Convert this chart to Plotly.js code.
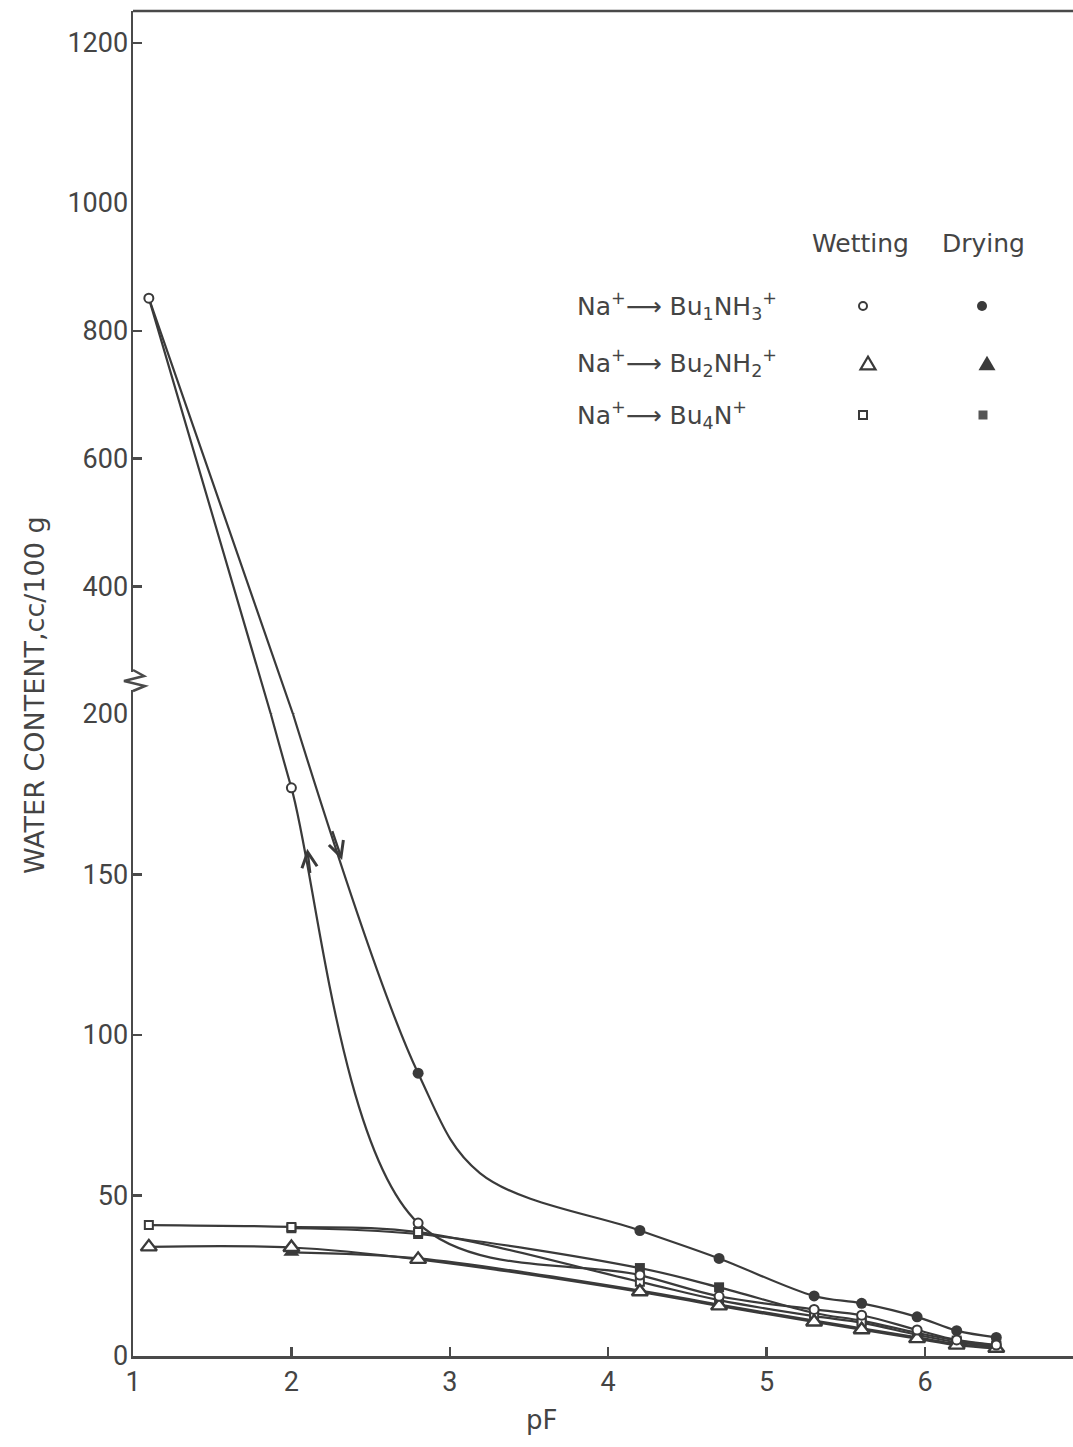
<!DOCTYPE html>
<html>
<head>
<meta charset="utf-8">
<script src="https://cdn.plot.ly/plotly-3.0.1.min.js"></script>
<style>
  html, body { margin: 0; padding: 0; background: #ffffff; }
  #chart { width: 1073px; height: 1447px; }
</style>
</head>
<body>
<div id="chart"></div>
<script>
// Suction (pF) at which each sample was measured
const pfAll    = [1.1, 2.0, 2.8, 4.2, 4.7, 5.3, 5.6, 5.95, 6.2, 6.45];
const pfDry    = [2.0, 2.8, 4.2, 4.7, 5.3, 5.6, 5.95, 6.2, 6.45];
const pfDryBu1 = [2.8, 4.2, 4.7, 5.3, 5.6, 5.95, 6.2, 6.45];

// Water content, cc/100 g
const wetBu1 = [851, 177, 41.4, 25.2, 18.6, 14.5, 12.7, 8.1, 5.0, 3.4];
const dryBu1 = [88.1, 39.1, 30.4, 18.7, 16.4, 12.2, 7.9, 5.8];
const wetBu2 = [34.0, 33.8, 30.1, 20.0, 15.6, 10.6, 8.2, 5.4, 3.4, 2.4];
const dryBu2 = [32.3, 30.4, 20.4, 16.0, 11.0, 8.6, 5.8, 3.7, 2.6];
const wetBu4 = [40.8, 40.2, 38.6, 23.1, 17.4, 12.4, 10.4, 6.6, 4.3, 3.0];
const dryBu4 = [39.8, 38.0, 27.4, 21.4, 13.4, 11.0, 7.2, 4.8, 3.3];

// Where the drawn Bu1NH3+ branches cross the axis break (200 cc/100 g)
const breakWC = 200;
const wetBu1CrossPF = 1.87;
const dryBu1CrossPF = 2.01;
// Knee of the drawn Bu1NH3+ drying curve between pF 2.8 and 4.2
const dryBu1KneePF = 3.19;
const dryBu1KneeWC = 57;

// Direction arrows on the Bu1NH3+ loop (tip and tail)
const arrowTipPF  = [2.10, 2.32];
const arrowTipWC  = [158, 154.5];
const arrowTailPF = [2.12, 2.255];
const arrowTailWC = [150, 164];

// Axis ticks
const xTicks    = [1, 2, 3, 4, 5, 6];
const yTicksLow = [0, 50, 100, 150, 200];
const yTicksMid = [400, 600, 800, 1000];
const yTicksTop = [1200];

const INK = '#3a3a3a';
const AXIS = '#4a4a4a';
const TEXT = '#444444';
const FONT = 'Roboto, "DejaVu Sans", sans-serif';
const FONT_WIDE = '"DejaVu Sans", Roboto, sans-serif';

// Plot geometry (pixels)
const W = 1073, H = 1447;
const M = { l: 133, r: 0, t: 11, b: 91 };
const plotW = W - M.l - M.r, plotH = H - M.t - M.b;
const px2paperX = px => (px - M.l) / plotW;
const px2paperY = py => (H - M.b - py) / plotH;

// Three stacked scale segments of the broken water-content axis
const domLow = [0, px2paperY(714)];
const domMid = [px2paperY(714), px2paperY(203)];
const domTop = [px2paperY(203), 1];

// Upper branch (above the break): straight runs from the saturated start
const upperCurves = [
  [[pfAll[0], wetBu1CrossPF, pfAll[1]], [wetBu1[0], breakWC, wetBu1[1]]],
  [[pfAll[0], dryBu1CrossPF, pfDryBu1[0]], [wetBu1[0], breakWC, dryBu1[0]]]
];
// Lower branch (below the break): smooth curves
const lowerCurves = [
  [[wetBu1CrossPF].concat(pfAll.slice(1)), [breakWC].concat(wetBu1.slice(1))],
  [[dryBu1CrossPF, pfDryBu1[0], dryBu1KneePF].concat(pfDryBu1.slice(1)),
   [breakWC, dryBu1[0], dryBu1KneeWC].concat(dryBu1.slice(1))],
  [pfAll, wetBu2],
  [pfDry, dryBu2],
  [pfAll, wetBu4],
  [pfDry, dryBu4]
];

const markerSets = [
  { x: pfDry,    y: dryBu4, symbol: 'square',      size: 10, fill: INK,   lw: 0 },
  { x: pfAll,    y: wetBu4, symbol: 'square',      size: 8,  fill: '#fff', lw: 2 },
  { x: pfDry,    y: dryBu2, symbol: 'triangle-up', size: 14, fill: INK,   lw: 0 },
  { x: pfAll,    y: wetBu2, symbol: 'triangle-up', size: 14, fill: '#fff', lw: 2.4 },
  { x: pfDryBu1, y: dryBu1, symbol: 'circle',      size: 11, fill: INK,   lw: 0 },
  { x: pfAll,    y: wetBu1, symbol: 'circle',      size: 9,  fill: '#fff', lw: 2 }
];

const traces = [];
function addCurve(x, y, ya, shape) {
  traces.push({
    type: 'scatter', mode: 'lines', x: x, y: y, xaxis: 'x', yaxis: ya,
    line: { color: INK, width: 2.2, shape: shape, smoothing: 1 },
    hoverinfo: 'skip', showlegend: false
  });
}
upperCurves.forEach(([x, y]) => addCurve(x, y, 'y2', 'linear'));
lowerCurves.forEach(([x, y]) => addCurve(x, y, 'y', 'spline'));

['y', 'y2'].forEach(ya => {
  markerSets.forEach(s => {
    traces.push({
      type: 'scatter', mode: 'markers', x: s.x, y: s.y, xaxis: 'x', yaxis: ya,
      marker: { symbol: s.symbol, size: s.size, color: s.fill, line: { color: INK, width: s.lw } },
      cliponaxis: true, hoverinfo: 'skip', showlegend: false
    });
  });
});
// keeps the top axis segment on the page
traces.push({ type: 'scatter', mode: 'lines', x: [], y: [], xaxis: 'x', yaxis: 'y3', showlegend: false, hoverinfo: 'skip' });

const yBase = {
  showline: true, linecolor: AXIS, linewidth: 2.5,
  ticks: 'inside', ticklen: 9, tickwidth: 2.5, tickcolor: AXIS,
  tickfont: { family: FONT, size: 27, color: TEXT },
  ticklabelstandoff: -3,
  showgrid: false, zeroline: false, tickmode: 'array', anchor: 'x', fixedrange: true
};

// Legend keys (pixel centres) and labels
const legendRowsY = [306, 363, 415];
const keyWetX = [863, 868, 863];
const keyDryX = [982, 987, 983];
const legendLabels = [
  'Na<sup>+</sup>⟶ Bu<sub>1</sub>NH<sub>3</sub><sup>+</sup>',
  'Na<sup>+</sup>⟶ Bu<sub>2</sub>NH<sub>2</sub><sup>+</sup>',
  'Na<sup>+</sup>⟶ Bu<sub>4</sub>N<sup>+</sup>'
];

function circleKey(cx, cy, d, filled) {
  return { type: 'circle', xref: 'paper', yref: 'paper', xsizemode: 'pixel', ysizemode: 'pixel',
    xanchor: px2paperX(cx), yanchor: px2paperY(cy), x0: -d / 2, x1: d / 2, y0: -d / 2, y1: d / 2,
    fillcolor: filled ? INK : '#fff', line: { color: INK, width: filled ? 0 : 2 } };
}
function squareKey(cx, cy, d, filled) {
  return { type: 'rect', xref: 'paper', yref: 'paper', xsizemode: 'pixel', ysizemode: 'pixel',
    xanchor: px2paperX(cx), yanchor: px2paperY(cy), x0: -d / 2, x1: d / 2, y0: -d / 2, y1: d / 2,
    fillcolor: filled ? '#555' : '#fff', line: { color: INK, width: filled ? 0 : 2 } };
}
function triKey(cx, cy, w, filled) {
  const h = w * 0.85;
  return { type: 'path', xref: 'paper', yref: 'paper', xsizemode: 'pixel', ysizemode: 'pixel',
    xanchor: px2paperX(cx), yanchor: px2paperY(cy),
    path: `M${-w / 2},${-h / 2} L${w / 2},${-h / 2} L0,${h / 2} Z`,
    fillcolor: filled ? INK : '#fff', line: { color: INK, width: filled ? 0 : 2.2 } };
}

const shapes = [
  // top frame line
  { type: 'line', xref: 'paper', yref: 'paper', x0: 0, x1: 1, y0: 1, y1: 1, line: { color: AXIS, width: 2.5 } },
  // axis break mark
  { type: 'line', xref: 'paper', yref: 'paper', x0: 0, x1: 0, y0: px2paperY(672), y1: px2paperY(690),
    line: { color: '#ffffff', width: 4 }, layer: 'above' },
  { type: 'path', xref: 'paper', yref: 'paper', layer: 'above',
    path: 'M' + [[133, 670], [144, 676], [124, 681], [145, 686], [133, 691]]
      .map(p => px2paperX(p[0]) + ',' + px2paperY(p[1])).join(' L'),
    line: { color: AXIS, width: 2.5 } },
  circleKey(keyWetX[0], legendRowsY[0], 8, false),
  circleKey(keyDryX[0], legendRowsY[0], 10, true),
  triKey(keyWetX[1], legendRowsY[1], 15, false),
  triKey(keyDryX[1], legendRowsY[1], 17, true),
  squareKey(keyWetX[2], legendRowsY[2], 8, false),
  squareKey(keyDryX[2], legendRowsY[2], 9, true)
];

const annotations = [
  { text: 'Wetting', xref: 'paper', yref: 'paper', x: px2paperX(860), y: px2paperY(243),
    xanchor: 'center', yanchor: 'middle', showarrow: false, font: { family: FONT_WIDE, size: 25, color: TEXT } },
  { text: 'Drying', xref: 'paper', yref: 'paper', x: px2paperX(983), y: px2paperY(243),
    xanchor: 'center', yanchor: 'middle', showarrow: false, font: { family: FONT_WIDE, size: 25, color: TEXT } },
  { text: 'WATER CONTENT,cc/100 g', xref: 'paper', yref: 'paper', x: px2paperX(35), y: px2paperY(695),
    xanchor: 'center', yanchor: 'middle', textangle: -90, showarrow: false,
    font: { family: FONT_WIDE, size: 27, color: TEXT } },
  { text: 'pF', xref: 'paper', yref: 'paper', x: px2paperX(541), y: px2paperY(1420),
    xanchor: 'center', yanchor: 'middle', showarrow: false, font: { family: FONT_WIDE, size: 26, color: TEXT } }
];
legendLabels.forEach((t, i) => {
  annotations.push({ text: t, xref: 'paper', yref: 'paper', x: px2paperX(575), y: px2paperY(legendRowsY[i]),
    xanchor: 'left', yanchor: 'middle', showarrow: false, font: { family: FONT_WIDE, size: 25, color: TEXT } });
});
arrowTipPF.forEach((p, i) => {
  annotations.push({ x: p, y: arrowTipWC[i], xref: 'x', yref: 'y',
    ax: arrowTailPF[i], ay: arrowTailWC[i], axref: 'x', ayref: 'y', text: '',
    showarrow: true, arrowhead: 5, arrowsize: 1.25, arrowwidth: 2.4, arrowcolor: INK });
});

const layout = {
  width: W, height: H,
  margin: M,
  paper_bgcolor: '#ffffff', plot_bgcolor: '#ffffff',
  showlegend: false,
  xaxis: {
    range: [1, 1 + plotW / 158.4], domain: [0, 1], anchor: 'y',
    showline: true, linecolor: AXIS, linewidth: 2.5,
    ticks: 'inside', ticklen: 9, tickwidth: 2.5, tickcolor: AXIS,
    tickmode: 'array', tickvals: xTicks, ticktext: xTicks.map(String),
    tickfont: { family: FONT, size: 27, color: TEXT },
    showgrid: false, zeroline: false, fixedrange: true
  },
  yaxis:  Object.assign({}, yBase, { domain: domLow, range: [0, 200],     tickvals: yTicksLow, ticktext: yTicksLow.map(String) }),
  yaxis2: Object.assign({}, yBase, { domain: domMid, range: [200, 1000],  tickvals: yTicksMid, ticktext: yTicksMid.map(String) }),
  yaxis3: Object.assign({}, yBase, { domain: domTop, range: [1000, 1240], tickvals: yTicksTop, ticktext: yTicksTop.map(String) }),
  shapes: shapes,
  annotations: annotations
};

Plotly.newPlot('chart', traces, layout, { staticPlot: true, displayModeBar: false });
</script>
</body>
</html>
